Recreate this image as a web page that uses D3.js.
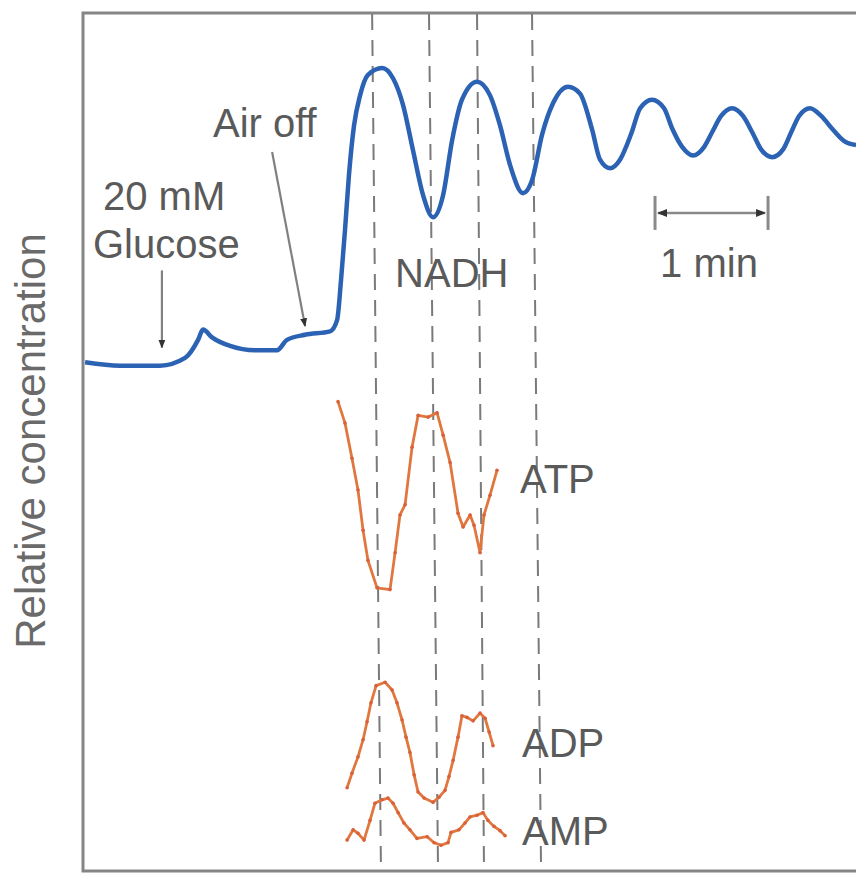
<!DOCTYPE html>
<html>
<head>
    <meta charset="utf-8">
    <title></title>
    <script src="https://d3js.org/d3.v7.min.js"></script>
    <style>
        html, body { margin: 0; padding: 0; background: white; }
        text { font-family: "Liberation Sans", Arial, sans-serif; }
    </style>
</head>
<body>
<div id="chart"></div>
<script>
    // time in seconds, concentration in arbitrary units (0-100)
    const nadhTime = [1.1, 19.6, 40.9, 54.2, 61.1, 63.7, 68.5, 78.1, 91.3, 103.0, 108.3, 117.9, 131.2,
        134.9, 137.0, 139.1, 141.2, 143.9, 147.1, 151.3, 158.8, 164.6, 169.9, 175.2, 180.5, 185.8,
        191.2, 196.0, 201.2, 209.2, 216.1, 221.4, 226.7, 233.6, 238.4, 243.7, 249.6, 257.5, 263.9,
        270.3, 274.5, 279.8, 285.1, 291.0, 295.8, 302.1, 308.5, 312.7, 318.1, 323.9, 329.8, 334.0,
        338.8, 344.6, 350.4, 355.3, 360.0, 365.9, 371.7, 376.0, 380.2, 386.0, 391.9, 398.2, 404.6, 410.4];
    const nadhValue = [59.3, 58.9, 58.9, 59.8, 61.9, 63.1, 62.2, 61.2, 60.7, 60.7, 61.9, 62.5, 62.9,
        64.2, 68.9, 74.7, 81.1, 86.9, 90.4, 92.8, 93.6, 92.4, 89.3, 84.0, 78.8, 76.2,
        78.8, 85.2, 89.9, 92.0, 90.4, 86.9, 82.3, 79.0, 80.5, 85.8, 89.5, 91.4, 90.6,
        86.4, 82.9, 81.9, 82.9, 85.9, 88.9, 89.9, 88.9, 86.6, 84.4, 83.4, 84.4, 86.1,
        88.0, 88.9, 88.0, 86.1, 84.1, 83.2, 84.1, 86.1, 88.0, 88.9, 88.0, 86.4, 85.0, 84.6];

    const atpTime = [135.4, 139.1, 142.8, 146.0, 148.7, 151.3, 156.1, 163.0, 165.7, 168.3, 171.0, 174.7,
        177.9, 183.2, 188.0, 191.2, 194.9, 199.1, 201.8, 205.5, 207.6, 210.8, 212.9, 216.1, 219.8];
    const atpValue = [54.7, 52.2, 48.1, 44.4, 39.7, 36.2, 33.0, 32.8, 37.1, 41.5, 42.7, 49.4,
        53.1, 52.9, 53.4, 50.8, 47.6, 41.7, 40.1, 41.5, 40.3, 37.1, 41.5, 43.8, 46.7];

    const adpTime = [140.2, 142.8, 146.0, 148.7, 150.8, 152.9, 155.6, 160.4, 164.1, 166.7, 169.4, 171.5,
        173.6, 175.8, 177.9, 181.1, 185.8, 189.0, 192.2, 194.3, 196.5, 199.1, 201.2, 203.9, 207.1,
        210.8, 213.5, 215.6, 217.7];
    const adpValue = [9.7, 11.4, 13.3, 15.3, 17.4, 19.6, 21.6, 22.0, 21.1, 19.6, 17.6, 15.6,
        13.8, 11.2, 9.2, 8.5, 8.0, 8.6, 9.4, 11.0, 12.9, 15.6, 18.1, 17.9, 17.5,
        18.4, 17.8, 16.2, 14.6];

    const ampTime = [140.2, 143.4, 146.0, 149.2, 152.4, 155.0, 158.8, 161.9, 164.6, 167.3, 170.4, 173.6,
        177.3, 182.7, 186.4, 190.1, 193.8, 195.4, 199.6, 202.8, 205.5, 209.2, 212.4, 215.0, 218.2,
        221.4, 224.1];
    const ampValue = [3.6, 4.8, 4.4, 3.6, 5.9, 7.9, 8.3, 8.5, 7.9, 6.8, 5.6, 4.8,
        3.8, 4.0, 3.3, 3.0, 3.3, 4.5, 4.8, 5.6, 6.3, 6.5, 6.8, 5.9, 5.2,
        4.7, 4.1];

    // phase markers (dashed lines), drawn slightly slanted as in the original
    const markTop = [153.5, 183.7, 209.2, 238.4];
    const markBottom = [158.2, 188.5, 212.9, 243.2];

    const width = 856, height = 874;
    const svg = d3.select("#chart").append("svg")
        .attr("width", width)
        .attr("height", height);

    const x = d3.scaleLinear().domain([0, 410.4]).range([83, 856]);
    const y = d3.scaleLinear().domain([0, 100]).range([871, 13]);

    const zip = (t, v) => t.map((d, i) => ({ t: d, v: v[i] }));

    const textColor = "#5a5a5a";
    const blue = "#2c62b4";
    const orange = "#e0773e";

    svg.append("defs").append("marker")
        .attr("id", "head")
        .attr("viewBox", "0 0 10 10")
        .attr("refX", 9).attr("refY", 5)
        .attr("markerWidth", 4).attr("markerHeight", 4)
        .attr("markerUnits", "strokeWidth")
        .attr("orient", "auto-start-reverse")
        .append("path")
        .attr("d", "M0,1L10,5L0,9Z")
        .attr("fill", "#333");

    // frame
    svg.append("path")
        .attr("d", `M${x(0)},${y(100)}H${width}M${x(0)},${y(100) - 1.5}V${y(0) + 1.5}M${x(0)},${y(0)}H${width}`)
        .attr("fill", "none")
        .attr("stroke", "#858585")
        .attr("stroke-width", 3);

    // dashed phase lines
    svg.append("g").selectAll("line")
        .data(markTop)
        .join("line")
        .attr("x1", d => x(d)).attr("y1", y(100) + 1)
        .attr("x2", (d, i) => x(markBottom[i])).attr("y2", y(0))
        .attr("stroke", "#7a7a7a")
        .attr("stroke-width", 2)
        .attr("stroke-dasharray", "16,10");

    // NADH trace
    const smooth = d3.line().x(d => x(d.t)).y(d => y(d.v)).curve(d3.curveMonotoneX);
    svg.append("path")
        .datum(zip(nadhTime, nadhValue))
        .attr("d", smooth)
        .attr("fill", "none")
        .attr("stroke", blue)
        .attr("stroke-width", 4.5)
        .attr("stroke-linejoin", "round");

    // nucleotide traces
    const straight = d3.line().x(d => x(d.t)).y(d => y(d.v));
    [[atpTime, atpValue], [adpTime, adpValue], [ampTime, ampValue]].forEach(([t, v]) => {
        const pts = zip(t, v);
        svg.append("path")
            .datum(pts)
            .attr("d", straight)
            .attr("fill", "none")
            .attr("stroke", orange)
            .attr("stroke-width", 2.8)
            .attr("stroke-linejoin", "round");
        svg.append("g").selectAll("circle")
            .data(pts)
            .join("circle")
            .attr("cx", d => x(d.t))
            .attr("cy", d => y(d.v))
            .attr("r", 1.8)
            .attr("fill", "#d9603a");
    });

    // labels
    const label = (t, v, s) => svg.append("text")
        .attr("x", x(t)).attr("y", y(v))
        .attr("fill", textColor)
        .style("font-size", "40px")
        .text(s);

    label(10.6, 77.0, "20 mM");
    label(5.3, 71.4, "Glucose");
    label(69.0, 85.5, "Air off");
    label(165.7, 68.1, "NADH");
    label(306.4, 69.2, "1 min");
    label(232.0, 44.1, "ATP");
    label(233.1, 13.3, "ADP");
    label(233.1, 3.0, "AMP");

    // annotation arrows
    const arrow = (t1, v1, t2, v2) => svg.append("line")
        .attr("x1", x(t1)).attr("y1", y(v1))
        .attr("x2", x(t2)).attr("y2", y(v2))
        .attr("stroke", "#808080")
        .attr("stroke-width", 2.2)
        .attr("marker-end", "url(#head)");

    arrow(41.9, 70.0, 41.9, 61.0);
    arrow(100.4, 83.8, 117.9, 63.5);

    // 1 min scale bar
    const barStart = 303.7, barEnd = 363.7, barLevel = 76.7;
    svg.append("line")
        .attr("x1", x(barStart) + 3).attr("y1", y(barLevel))
        .attr("x2", x(barEnd) - 3).attr("y2", y(barLevel))
        .attr("stroke", "#8a8a8a")
        .attr("stroke-width", 2.5)
        .attr("marker-start", "url(#head)")
        .attr("marker-end", "url(#head)");
    [barStart, barEnd].forEach(t => {
        svg.append("line")
            .attr("x1", x(t)).attr("y1", y(barLevel) - 17)
            .attr("x2", x(t)).attr("y2", y(barLevel) + 17)
            .attr("stroke", "#8a8a8a")
            .attr("stroke-width", 3);
    });

    // y axis title
    svg.append("text")
        .attr("transform", `translate(45,441) rotate(-90)`)
        .attr("text-anchor", "middle")
        .attr("fill", "#6a6a6a")
        .style("font-size", "42px")
        .text("Relative concentration");
</script>
</body>
</html>
